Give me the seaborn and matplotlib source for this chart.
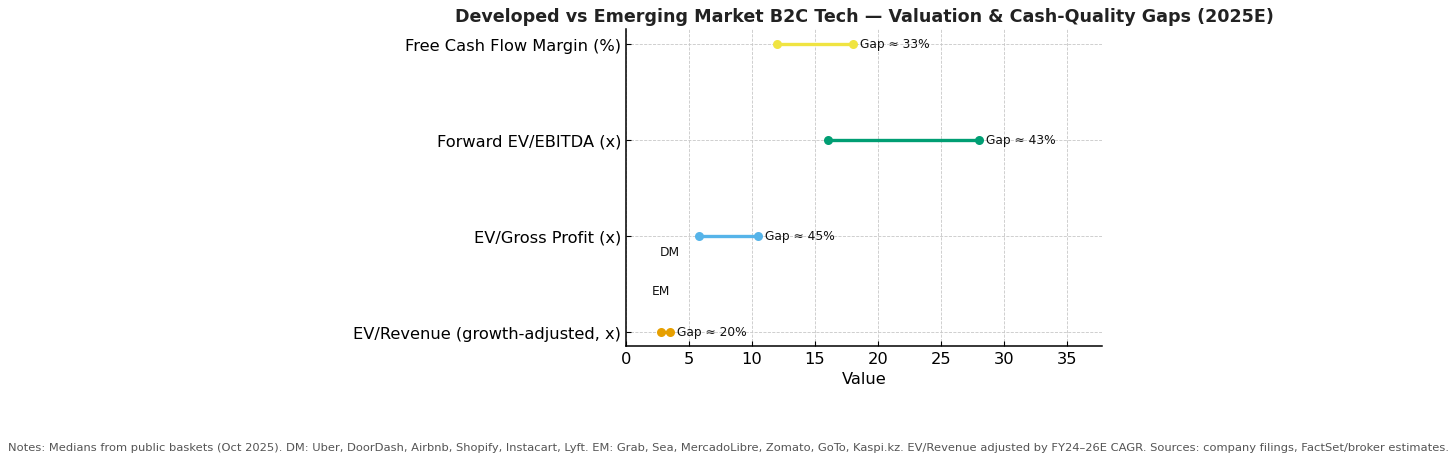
import matplotlib
matplotlib.use("Agg")
import matplotlib.pyplot as plt
import seaborn as sns
import pandas as pd

metrics = ["EV/Revenue (growth-adjusted, x)", "EV/Gross Profit (x)",
           "Forward EV/EBITDA (x)", "Free Cash Flow Margin (%)"]
dm_values = [3.5, 10.5, 28.0, 18.0]
em_values = [2.8, 5.8, 16.0, 12.0]
gap_labels = ["Gap ≈ 20%", "Gap ≈ 45%", "Gap ≈ 43%", "Gap ≈ 33%"]
colors = ["#E69F00", "#56B4E9", "#009E73", "#F0E442"]

title = "Developed vs Emerging Market B2C Tech — Valuation & Cash-Quality Gaps (2025E)"
notes = ("Notes: Medians from public baskets (Oct 2025). DM: Uber, DoorDash, Airbnb, Shopify, Instacart, Lyft. "
         "EM: Grab, Sea, MercadoLibre, Zomato, GoTo, Kaspi.kz. EV/Revenue adjusted by FY24–26E CAGR. "
         "Sources: company filings, FactSet/broker estimates.")

sns.set_style("ticks")
plt.rcParams['font.family'] = ['DejaVu Sans']

rows = []
for i, m in enumerate(metrics):
    rows.append({"metric": m, "idx": i, "market": "EM", "value": em_values[i]})
    rows.append({"metric": m, "idx": i, "market": "DM", "value": dm_values[i]})
df = pd.DataFrame(rows)

fig = plt.figure(figsize=(14.56, 4.64), dpi=100)
ax = fig.add_axes([0.43, 0.252, 0.327, 0.683])

for i, m in enumerate(metrics):
    sub = df[df["idx"] == i]
    sns.lineplot(data=sub, x="value", y="idx", color=colors[i], linewidth=2.4,
                 marker="o", markersize=6.5, markeredgewidth=0, ax=ax, legend=False,
                 sort=False, estimator=None)
    ax.annotate(gap_labels[i], xy=(max(dm_values[i], em_values[i]), i),
                xytext=(5, 0), textcoords="offset points", va="center", ha="left",
                fontsize=8.8, color="#111111")

ax.annotate("DM", xy=(dm_values[0], 0), xytext=(0, 58), textcoords="offset points",
            ha="center", va="center", fontsize=8.8, color="#111111")
ax.annotate("EM", xy=(em_values[0], 0), xytext=(0, 30), textcoords="offset points",
            ha="center", va="center", fontsize=8.8, color="#111111")

ax.set_yticks(range(len(metrics)))
ax.set_yticklabels(metrics, fontsize=11.7)
ax.set_ylim(-0.15, 3.15)
ax.set_xlim(0, max(dm_values) * 1.35)
ax.set_xticks([0, 5, 10, 15, 20, 25, 30, 35])
ax.tick_params(axis="x", labelsize=11.7, direction="in", colors="black")
ax.tick_params(axis="y", direction="in", colors="black")
ax.set_xlabel("Value", fontsize=11.7, color="black")
ax.set_ylabel("")
ax.grid(True, linestyle="--", linewidth=0.6, color="#c8c8c8")
ax.set_axisbelow(True)
sns.despine(ax=ax)
for s in ("left", "bottom"):
    ax.spines[s].set_color("black")
    ax.spines[s].set_linewidth(1.1)
ax.set_title(title, fontsize=12.6, fontweight="bold", color="#222222", pad=6)

fig.text(0.5, 0.035, notes, ha="center", va="center", fontsize=8.25, color="#555555")

fig.savefig("out.png", dpi=100)
